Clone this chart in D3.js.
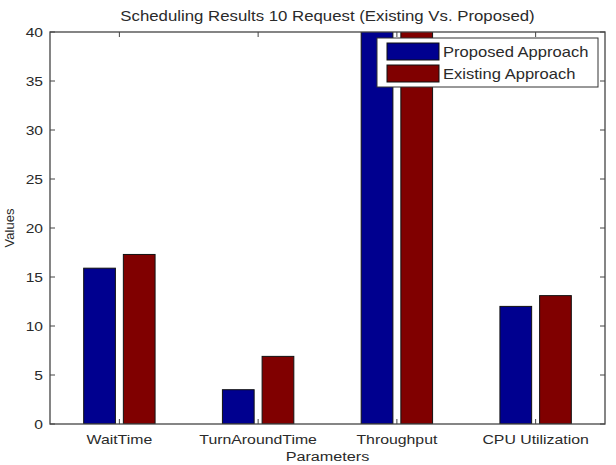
<!DOCTYPE html>
<html>
<head>
<meta charset="utf-8">
<script src="https://cdn.jsdelivr.net/npm/d3@7"></script>
<style>
  body { margin: 0; background: #fff; }
  text { font-family: "Liberation Sans", Arial, sans-serif; fill: #2a2a2a; }
</style>
</head>
<body>
<svg id="chart" width="616" height="465"></svg>
<script>
// data
const categories = ['WaitTime', 'TurnAroundTime', 'Throughput', 'CPU Utilization']
const proposed = [15.9, 3.5, 45, 12.0]
const existing = [17.3, 6.9, 45, 13.1]
const seriesNames = ['Proposed Approach', 'Existing Approach']
const seriesColors = ['#00008f', '#800000']
const yTicks = [0, 5, 10, 15, 20, 25, 30, 35, 40]

const svg = d3.select('#chart')
const plotL = 50, plotR = 605, plotT = 32, plotB = 424
const sx = 1.2 // the text in the picture is a bit stretched sideways

const x = d3.scaleLinear().domain([0.5, 4.5]).range([plotL, plotR])
const y = d3.scaleLinear().domain([0, 40]).range([plotB, plotT])

// text helper, stretched horizontally
function label(g, px, py, str, size, anchor) {
  return g.append('text')
    .attr('transform', `translate(${px},${py}) scale(${sx},1)`)
    .attr('text-anchor', anchor || 'middle')
    .style('font-size', size + 'px')
    .text(str)
}

svg.append('defs').append('clipPath').attr('id', 'plot')
  .append('rect').attr('x', plotL).attr('y', plotT)
  .attr('width', plotR - plotL).attr('height', plotB - plotT)

// bars, matlab style grouped offsets
const offset = 0.143, barW = 0.2286
const series = [proposed, existing]
const bars = svg.append('g').attr('clip-path', 'url(#plot)')
series.forEach((vals, s) => {
  bars.selectAll('.s' + s)
    .data(vals)
    .enter()
    .append('rect')
    .attr('x', (d, i) => x(i + 1 + (s === 0 ? -offset : offset) - barW / 2))
    .attr('width', x(barW) - x(0))
    .attr('y', d => y(d))
    .attr('height', d => y(0) - y(d))
    .attr('fill', seriesColors[s])
    .attr('stroke', '#111')
    .attr('stroke-width', 1)
})

// box + ticks on every side
const axisColor = '#444'
svg.append('rect')
  .attr('x', plotL).attr('y', plotT)
  .attr('width', plotR - plotL).attr('height', plotB - plotT)
  .attr('fill', 'none').attr('stroke', axisColor).attr('stroke-width', 1.3)

const tl = 5
yTicks.forEach(t => {
  svg.append('line').attr('x1', plotL).attr('x2', plotL + tl)
    .attr('y1', y(t)).attr('y2', y(t)).attr('stroke', axisColor)
  svg.append('line').attr('x1', plotR).attr('x2', plotR - tl)
    .attr('y1', y(t)).attr('y2', y(t)).attr('stroke', axisColor)
  label(svg, plotL - 7, y(t) + 5, t, 13, 'end')
})

categories.forEach((c, i) => {
  svg.append('line').attr('x1', x(i + 1)).attr('x2', x(i + 1))
    .attr('y1', plotB).attr('y2', plotB - tl).attr('stroke', axisColor)
  svg.append('line').attr('x1', x(i + 1)).attr('x2', x(i + 1))
    .attr('y1', plotT).attr('y2', plotT + tl).attr('stroke', axisColor)
  label(svg, x(i + 1), 444, c, 13.2)
})

// titles
label(svg, (plotL + plotR) / 2, 21, 'Scheduling Results 10 Request (Existing Vs. Proposed)', 14)
label(svg, (plotL + plotR) / 2, 461, 'Parameters', 13.5)
svg.append('text')
  .attr('transform', `translate(14,${(plotT + plotB) / 2}) rotate(-90)`)
  .attr('text-anchor', 'middle')
  .style('font-size', '13px')
  .text('Values')

// legend
const lg = svg.append('g')
lg.append('rect').attr('x', 377).attr('y', 38).attr('width', 221).attr('height', 49)
  .attr('fill', '#fff').attr('stroke', '#333').attr('stroke-width', 1)
seriesNames.forEach((n, i) => {
  lg.append('rect').attr('x', 387).attr('y', 43 + i * 22).attr('width', 52).attr('height', 17)
    .attr('fill', seriesColors[i]).attr('stroke', '#111')
  label(lg, 443, 57 + i * 22, n, 13.8, 'start')
})
</script>
</body>
</html>
